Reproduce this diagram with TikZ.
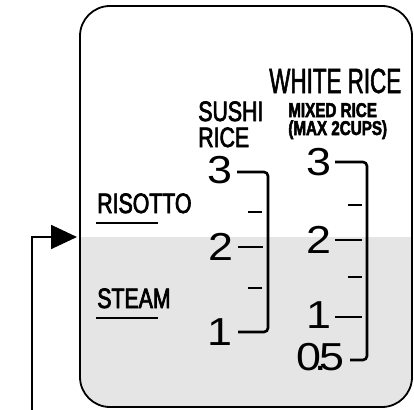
\documentclass[tikz,border=0pt]{standalone}
\usepackage{fontspec}
\usetikzlibrary{arrows.meta}
\newfontfamily\narrowfont[FakeStretch=0.76, FakeBold=2.5]{Liberation Sans}
\newfontfamily\titlefont[FakeStretch=0.64, FakeBold=1.5]{Liberation Sans}
\newfontfamily\digitfont[FakeStretch=1.15]{Liberation Sans}
\definecolor{watergray}{RGB}{229,229,229}
\begin{document}
\begin{tikzpicture}[x=1pt, y=-1pt, line width=2.6pt,
  lbl/.style={inner sep=0pt, anchor=base west},
  mode/.style={lbl, font=\narrowfont\fontsize{28}{28}\selectfont},
  num/.style={inner sep=0pt, anchor=east, font=\digitfont\fontsize{39}{39}\selectfont},
  bar/.style={rounded corners=4pt},
  minortick/.style={line width=2.6pt}]
\useasboundingbox (0,0) rectangle (414,409);
\begin{scope}
\clip[rounded corners=30pt] (80,6) rectangle (412,407);
\fill[watergray] (80,237) rectangle (412,407);
\end{scope}
\draw[line width=1.8pt, rounded corners=30pt] (80,6) rectangle (412,407);
\node[lbl, font=\titlefont\fontsize{35}{35}\selectfont] (white) at (268,93) {WHITE RICE};
\node[lbl, font=\narrowfont\bfseries\fontsize{20}{20}\selectfont] (mixed) at (287,117) {MIXED RICE};
\node[lbl, font=\narrowfont\bfseries\fontsize{20}{20}\selectfont] (maxcups) at (287,135) {(MAX 2CUPS)};
\node[mode] (sushi) at (197,121) {SUSHI};
\node[mode] (sushirice) at (197,147) {RICE};
\node[mode] (risotto) at (96,213) {RISOTTO};
\node[mode] (steam) at (96,308) {STEAM};
\draw (risotto.base west) ++(0,10) -- ++(62,0);
\draw (steam.base west) ++(0,10) -- ++(62,0);
\node[num] (s3) at (234,170) {3};
\node[num] (s2) at (235,247) {2};
\node[num] (s1) at (234,332) {1};
\coordinate (sfoot) at (268,332);
\draw[bar] ([xshift=3pt,yshift=-2pt]s3.east) -| (sfoot) -- ([xshift=4pt]s1.east);
\draw ([xshift=3pt]s2.east) -- +(25,0);
\draw[minortick] (248,212) -- +(14,0);
\draw[minortick] (248,288) -- +(14,0);
\node[num] (w3) at (333,162) {3};
\node[num] (w2) at (333,240) {2};
\node[num] (w1) at (333,315) {1};
\node[num] (w05) at (346,357) {0\kern-7pt.\kern-7pt5};
\coordinate (wfoot) at (367,360);
\draw[bar] ([xshift=2pt]w3.east) -| (wfoot) -- ([xshift=4pt,yshift=-3pt]w05.east);
\draw ([xshift=2pt]w2.east) -- +(27,0);
\draw ([xshift=2pt,yshift=-2pt]w1.east) -- +(27,0);
\draw[minortick] (348,205) -- +(14,0);
\draw[minortick] (348,277) -- +(14,0);
\coordinate (foot) at (32,412);
\coordinate (level) at (77,237);
\draw[line width=1.8pt, -{Triangle[length=26pt, width=24pt]}] (foot) |- (level);
\end{tikzpicture}
\end{document}
